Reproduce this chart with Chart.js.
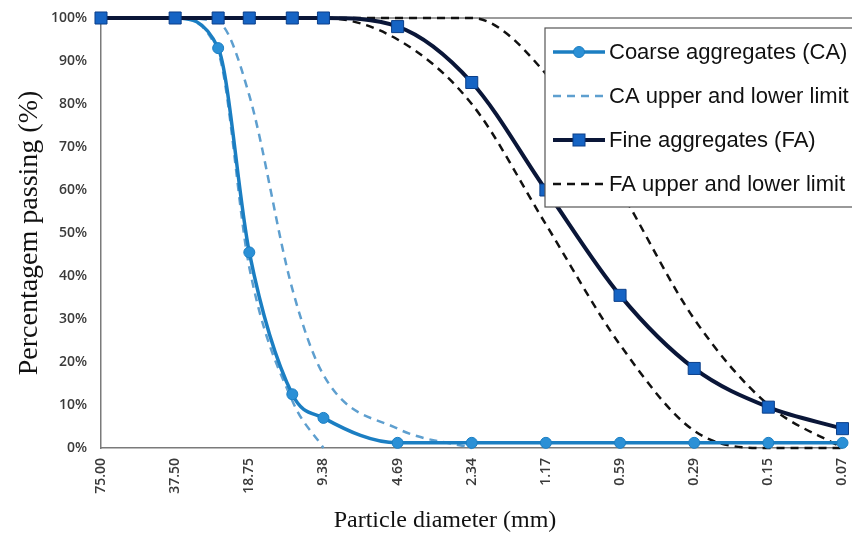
<!DOCTYPE html>
<html>
<head>
<meta charset="utf-8">
<script src="https://cdn.jsdelivr.net/npm/chart.js@4.4.1/dist/chart.umd.min.js"></script>
<style>
	html, body { margin: 0; padding: 0; background: #fff; }
	#wrap { width: 852px; height: 538px; position: relative; }
</style>
</head>
<body>
<div id="wrap"><canvas id="grading"></canvas></div>
<script>
( function () {
	'use strict';

	// ── Data ─────────────────────────────────────────────────────────────
	// Sieve positions on the x axis (one step per halving of sieve size;
	// 25 mm and 12.5 mm sit between the labelled sieves).
	const SIEVE_POS = [ 0, 1, 1.58, 2, 2.58, 3, 4, 5, 6, 7, 8, 9, 10 ];
	const X_TICK_LABELS = [ '75.00', '37.50', '18.75', '9.38', '4.69', '2.34', '1.17', '0.59', '0.29', '0.15', '0.07' ];

	const CA_PASSING = [ 100, 100, 93, 45.5, 12.5, 7, 1.2, 1.2, 1.2, 1.2, 1.2, 1.2, 1.2 ];
	const CA_UPPER   = [ 100, 100, 99, 82, 37, 17, 4.5, 0, null, null, null, null, null ];
	const CA_LOWER   = [ 100, 100, 92, 42, 11, 0, null, null, null, null, null, null, null ];
	const FA_PASSING = [ 100, 100, 100, 100, 100, 100, 98, 85, 60, 35.5, 18.5, 9.5, 4.5 ];
	const FA_UPPER   = [ 100, 100, 100, 100, 100, 100, 100, 100, 87, 60, 30, 10, 0 ];
	const FA_LOWER   = [ 100, 100, 100, 100, 100, 100, 95, 80, 52, 24, 4, 0, 0 ];

	const LEGEND_LABELS = [
		'Coarse aggregates (CA)',
		'CA upper and lower limit',
		'Fine aggregates (FA)',
		'FA upper and lower limit',
	];

	// ── Styles ───────────────────────────────────────────────────────────
	const CA_LINE = '#1b7ec2';
	const CA_DOT = '#2b90d6';
	const CA_LIMIT = '#5e9fcf';
	const FA_LINE = '#0a1638';
	const FA_BOX = '#1664c4';
	const FA_LIMIT = '#111111';
	const DASH = [ 8, 6 ];

	function pts( ys ) {
		var out = [];
		ys.forEach( function ( y, i ) {
			out.push( { x: SIEVE_POS[ i ], y: y } );
		} );
		return out;
	}

	function limitSet( ys, color ) {
		return {
			data: pts( ys ),
			borderColor: color,
			borderWidth: 2.5,
			borderDash: DASH,
			pointRadius: 0,
			cubicInterpolationMode: 'monotone',
			clip: false,
		};
	}

	// ── Plugins ──────────────────────────────────────────────────────────

	const frame = {
		id: 'frame',
		beforeDatasetsDraw: function ( chart ) {
			var c = chart.ctx, a = chart.chartArea;
			c.save();
			c.strokeStyle = '#7a7a7a';
			c.lineWidth = 1.5;
			c.beginPath();
			c.moveTo( a.left, a.top );
			c.lineTo( chart.width, a.top );
			c.stroke();
			c.restore();
		},
		afterDraw: function ( chart ) {
			var c = chart.ctx;
			c.save();
			c.fillStyle = '#111';
			c.font = '24px "Liberation Serif"';
			c.textAlign = 'center';
			c.textBaseline = 'middle';
			c.fillText( 'Particle diameter (mm)', 445, 521 );
			c.restore();
		},
	};

	const boxLegend = {
		id: 'boxLegend',
		afterDraw: function ( chart ) {
			var c = chart.ctx;
			var x0 = 545, y0 = 28, rowH = 44;
			c.save();
			c.fillStyle = '#fff';
			c.strokeStyle = '#555';
			c.lineWidth = 1.2;
			c.fillRect( x0, y0, 320, 179 );
			c.strokeRect( x0, y0, 320, 179 );

			LEGEND_LABELS.forEach( function ( label, i ) {
				var y = y0 + 24 + i * rowH;
				c.save();
				c.beginPath();
				c.moveTo( 553, y );
				c.lineTo( 605, y );
				if ( i === 0 ) {
					c.strokeStyle = CA_LINE; c.lineWidth = 3.5;
				} else if ( i === 1 ) {
					c.strokeStyle = CA_LIMIT; c.lineWidth = 2.5; c.setLineDash( DASH );
				} else if ( i === 2 ) {
					c.strokeStyle = FA_LINE; c.lineWidth = 4;
				} else {
					c.strokeStyle = FA_LIMIT; c.lineWidth = 2.5; c.setLineDash( DASH );
				}
				c.stroke();
				c.restore();

				if ( i === 0 ) {
					c.beginPath();
					c.arc( 579, y, 5.5, 0, Math.PI * 2 );
					c.fillStyle = CA_DOT; c.fill();
					c.strokeStyle = CA_LINE; c.lineWidth = 1; c.stroke();
				} else if ( i === 2 ) {
					c.fillStyle = FA_BOX;
					c.fillRect( 573, y - 6, 12, 12 );
					c.strokeStyle = '#0b3f8a'; c.lineWidth = 1;
					c.strokeRect( 573, y - 6, 12, 12 );
				}

				c.fillStyle = '#111';
				c.font = '22px "Liberation Sans"';
				c.textAlign = 'left';
				c.textBaseline = 'middle';
				c.fillText( label, 609, y + 1 );
			} );
			c.restore();
		},
	};

	// ── Chart ────────────────────────────────────────────────────────────

	const tickFont = { family: '"Open Sans"', size: 14, weight: '600' };

	new Chart( document.getElementById( 'grading' ), {
		type: 'line',
		data: {
			datasets: [
				{
					label: LEGEND_LABELS[ 2 ],
					data: pts( FA_PASSING ),
					borderColor: FA_LINE,
					borderWidth: 4,
					pointStyle: 'rect',
					pointRadius: 8.5,
					pointBackgroundColor: FA_BOX,
					pointBorderColor: '#0b3f8a',
					pointBorderWidth: 1,
					cubicInterpolationMode: 'monotone',
					clip: false,
				},
				{
					label: LEGEND_LABELS[ 0 ],
					data: pts( CA_PASSING ),
					borderColor: CA_LINE,
					borderWidth: 3.5,
					pointRadius: 5.5,
					pointBackgroundColor: CA_DOT,
					pointBorderColor: CA_LINE,
					pointBorderWidth: 1,
					cubicInterpolationMode: 'monotone',
					clip: false,
				},
				limitSet( FA_UPPER, FA_LIMIT ),
				limitSet( FA_LOWER, FA_LIMIT ),
				limitSet( CA_UPPER, CA_LIMIT ),
				limitSet( CA_LOWER, CA_LIMIT ),
			],
		},
		options: {
			responsive: true,
			maintainAspectRatio: false,
			animation: false,
			layout: { padding: { left: 10, right: 6, top: 18, bottom: 0 } },
			plugins: {
				legend: { display: false },
				tooltip: { enabled: false },
			},
			scales: {
				x: {
					type: 'linear',
					min: 0,
					max: 10,
					grid: { display: false, drawTicks: false },
					border: { display: true, color: '#7a7a7a', width: 1.5 },
					afterFit: function ( s ) {
						s.height = 90;
						s.paddingLeft = 0;
						s.paddingRight = 0;
					},
					afterBuildTicks: function ( s ) {
						s.ticks = X_TICK_LABELS.map( function ( _, i ) { return { value: i }; } );
					},
					ticks: {
						autoSkip: false,
						minRotation: 90,
						maxRotation: 90,
						padding: 10,
						color: '#3a3a3a',
						font: tickFont,
						callback: function ( v ) { return X_TICK_LABELS[ v ]; },
					},
				},
				y: {
					min: 0,
					max: 100,
					grid: { display: false, drawTicks: false },
					border: { display: true, color: '#7a7a7a', width: 1.5 },
					afterFit: function ( s ) {
						s.width = 91;
						s.paddingTop = 0;
						s.paddingBottom = 0;
					},
					ticks: {
						stepSize: 10,
						padding: 14,
						color: '#3a3a3a',
						font: tickFont,
						callback: function ( v ) { return v + '%'; },
					},
					title: {
						display: true,
						text: 'Percentagem passing (%)',
						color: '#111',
						font: { family: '"Liberation Serif"', size: 28 },
						padding: { top: 3, bottom: 0 },
					},
				},
			},
		},
		plugins: [ frame, boxLegend ],
	} );
} )();
</script>
</body>
</html>
